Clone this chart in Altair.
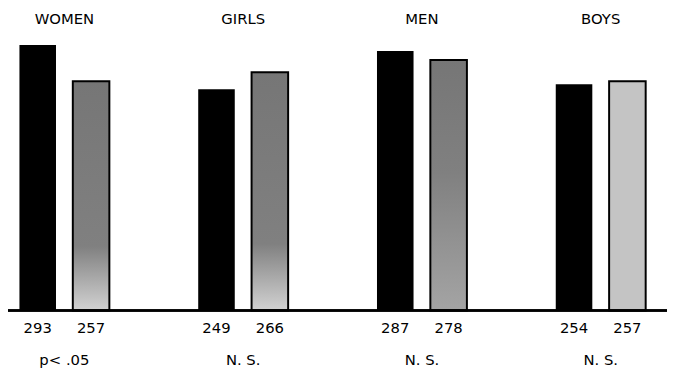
import altair as alt
import pandas as pd

# ---- data ----
groups = ["WOMEN", "GIRLS", "MEN", "BOYS"]
first_values = [293, 249, 287, 254]     # black bars
second_values = [257, 266, 278, 257]    # patterned bars
p_labels = ["p< .05", "N. S.", "N. S.", "N. S."]
patterns = ["cross_dots", "cross_dots", "cross_lines", "dots"]

rows = []
for g, a, b, pat in zip(groups, first_values, second_values, patterns):
    rows.append({"group": g, "series": "A", "value": a, "pattern": "solid"})
    rows.append({"group": g, "series": "B", "value": b, "pattern": pat})
bars = pd.DataFrame(rows)
grp = pd.DataFrame({"group": groups, "p": p_labels})

W, H = 657, 276
FONT = "DejaVu Sans"
FS = 15

xenc = alt.X("group:N", sort=groups, axis=None,
             scale=alt.Scale(paddingInner=0.497, paddingOuter=0.064))
xoff = alt.XOffset("series:N", sort=["A", "B"],
                   scale=alt.Scale(paddingInner=0.315, paddingOuter=0))
yenc = alt.Y("value:Q", axis=None,
             scale=alt.Scale(domain=[30, 300], zero=False, nice=False))

base = alt.Chart(bars).encode(x=xenc, xOffset=xoff, y=yenc, y2=alt.datum(30))


def grad(stops):
    return alt.Gradient(
        gradient="linear",
        stops=[alt.GradientStop(color=c, offset=o) for o, c in stops],
        x1=0, x2=0, y1=0, y2=1,
    )


black = base.transform_filter("datum.series == 'A'").mark_bar(color="black")

cross_dots = base.transform_filter("datum.pattern == 'cross_dots'").mark_bar(
    color=grad([(0, "#767676"), (0.72, "#808080"), (1, "#d2d2d2")]),
    stroke="black", strokeWidth=2)
cross_lines = base.transform_filter("datum.pattern == 'cross_lines'").mark_bar(
    color=grad([(0, "#767676"), (0.45, "#808080"), (1, "#a4a4a4")]),
    stroke="black", strokeWidth=2)
dots = base.transform_filter("datum.pattern == 'dots'").mark_bar(
    color="#c4c4c4", stroke="black", strokeWidth=2)

baseline = alt.Chart(grp).mark_rule(color="black", strokeWidth=2).encode(
    x=alt.value(-1), x2=alt.value(W + 10), y=alt.datum(30))

num_text = alt.Chart(bars).mark_text(font=FONT, fontSize=FS, color="black").encode(
    x=xenc, xOffset=xoff, y=alt.value(H + 18), text="value:Q")

titles = alt.Chart(grp).mark_text(font=FONT, fontSize=FS, color="black").encode(
    x=xenc, y=alt.value(-19), text="group:N")

pvals = alt.Chart(grp).mark_text(font=FONT, fontSize=FS, color="black").encode(
    x=xenc, y=alt.value(H + 50), text="p:N")

chart = alt.layer(black, cross_dots, cross_lines, dots, baseline, num_text, titles, pvals).properties(
    width=W, height=H,
    autosize=alt.AutoSizeParams(type="none"),
    padding={"left": 0, "top": 28, "right": 10, "bottom": 60},
    background="white",
).configure_view(strokeWidth=0)

chart.save("out.html", embed_options={"renderer": "svg", "actions": False})
